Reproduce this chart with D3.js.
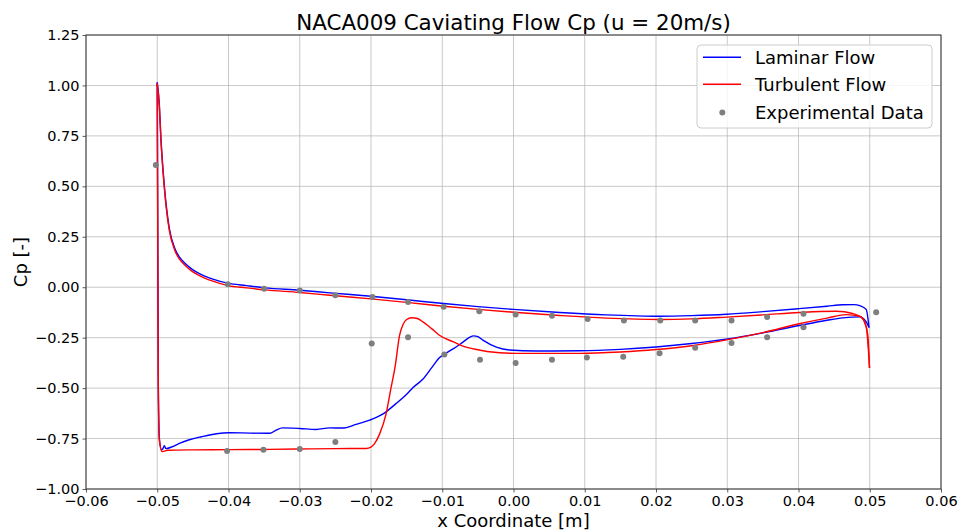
<!DOCTYPE html>
<html><head><meta charset="utf-8">
<script src="https://cdn.jsdelivr.net/npm/d3@7"></script>
<style>
html,body{margin:0;padding:0;background:#fff;}
svg{display:block;font-family:"DejaVu Sans",sans-serif;}
</style></head><body>
<svg id="chart" width="959" height="531"></svg>
<script>
// ---- Data (x [m], Cp) ----
const laminarUpper = [
[-0.0500,1.015],[-0.0497,0.90],[-0.0495,0.75],[-0.0490,0.50],[-0.0483,0.29],[-0.0475,0.19],
[-0.0469,0.15],[-0.0460,0.115],[-0.0450,0.086],[-0.0435,0.058],[-0.0422,0.040],[-0.0401,0.020],
[-0.0375,0.008],[-0.0349,-0.003],[-0.0300,-0.015],[-0.0258,-0.028],[-0.0200,-0.045],[-0.0150,-0.062],
[-0.0098,-0.081],[-0.0050,-0.096],[0.0000,-0.110],[0.0065,-0.125],[0.0130,-0.137],[0.0205,-0.144],
[0.0250,-0.141],[0.0299,-0.134],[0.0350,-0.121],[0.0401,-0.106],[0.0440,-0.094],[0.0462,-0.087],
[0.0478,-0.086],[0.0486,-0.091],[0.0495,-0.110],[0.0499,-0.200]
];
const laminarLower = [
[-0.0500,1.015],[-0.04995,0.50],[-0.0499,0.0],[-0.04985,-0.50],[-0.0497,-0.75],[-0.0494,-0.807],
[-0.0492,-0.800],[-0.0490,-0.785],[-0.0488,-0.800],[-0.0480,-0.792],[-0.0469,-0.774],[-0.0455,-0.756],
[-0.0438,-0.741],[-0.0417,-0.726],[-0.0399,-0.721],[-0.0370,-0.723],[-0.0342,-0.724],[-0.0333,-0.708],
[-0.0324,-0.697],[-0.0300,-0.700],[-0.0277,-0.705],[-0.0258,-0.697],[-0.0240,-0.698],[-0.0221,-0.680],
[-0.0202,-0.659],[-0.0183,-0.628],[-0.0165,-0.577],[-0.0150,-0.530],[-0.0141,-0.497],[-0.0127,-0.455],
[-0.0115,-0.400],[-0.0104,-0.350],[-0.0094,-0.325],[-0.0080,-0.295],[-0.0071,-0.272],[-0.0056,-0.241],
[-0.0050,-0.245],[-0.0043,-0.262],[-0.0024,-0.297],[-0.0006,-0.311],[0.0032,-0.316],[0.0093,-0.315],
[0.0150,-0.308],[0.0200,-0.296],[0.0250,-0.279],[0.0301,-0.256],[0.0350,-0.226],[0.0401,-0.190],
[0.0440,-0.164],[0.0462,-0.152],[0.0486,-0.147],[0.0495,-0.172],[0.0499,-0.200]
];
const turbulentUpper = [
[-0.0500,1.010],[-0.0497,0.89],[-0.0495,0.74],[-0.0490,0.49],[-0.0483,0.28],[-0.0475,0.18],
[-0.0469,0.14],[-0.0460,0.105],[-0.0450,0.076],[-0.0435,0.048],[-0.0422,0.030],[-0.0401,0.008],
[-0.0375,-0.003],[-0.0349,-0.013],[-0.0300,-0.026],[-0.0258,-0.040],[-0.0200,-0.058],[-0.0150,-0.075],
[-0.0098,-0.094],[-0.0050,-0.110],[0.0000,-0.124],[0.0065,-0.140],[0.0130,-0.153],[0.0205,-0.160],
[0.0250,-0.157],[0.0299,-0.148],[0.0350,-0.137],[0.0401,-0.125],[0.0430,-0.120],[0.0453,-0.119],
[0.0476,-0.130],[0.0490,-0.155],[0.0497,-0.230],[0.04997,-0.400]
];
const turbulentLower = [
[-0.0500,1.010],[-0.04995,0.50],[-0.0499,0.0],[-0.04985,-0.50],[-0.0497,-0.76],[-0.0493,-0.815],
[-0.0485,-0.808],[-0.0450,-0.806],[-0.0399,-0.805],[-0.0350,-0.804],[-0.0305,-0.802],[-0.0250,-0.800],
[-0.0207,-0.799],[-0.0200,-0.792],[-0.0195,-0.775],[-0.0188,-0.728],[-0.0179,-0.630],[-0.0172,-0.500],
[-0.0166,-0.390],[-0.0160,-0.240],[-0.0155,-0.185],[-0.0150,-0.160],[-0.0143,-0.151],[-0.0135,-0.155],
[-0.0127,-0.172],[-0.0115,-0.205],[-0.0104,-0.238],[-0.0085,-0.270],[-0.0071,-0.292],[-0.0050,-0.310],
[-0.0034,-0.320],[0.0004,-0.328],[0.0093,-0.328],[0.0150,-0.321],[0.0200,-0.309],[0.0250,-0.290],
[0.0301,-0.260],[0.0350,-0.225],[0.0401,-0.181],[0.0440,-0.153],[0.0467,-0.136],[0.0486,-0.144],
[0.0495,-0.196],[0.04997,-0.400]
];
const experimental = [
[-0.0502,0.606],[-0.0401,0.015],[-0.0350,-0.008],[-0.0300,-0.016],[-0.0250,-0.040],[-0.0198,-0.048],
[-0.0148,-0.073],[-0.0098,-0.097],[-0.0048,-0.119],[0.0003,-0.135],[0.0054,-0.142],[0.0104,-0.157],
[0.0155,-0.165],[0.0206,-0.165],[0.0255,-0.165],[0.0306,-0.165],[0.0356,-0.147],[0.0407,-0.132],
[0.0509,-0.124],
[-0.0402,-0.812],[-0.0351,-0.805],[-0.0300,-0.802],[-0.0250,-0.767],[-0.0199,-0.279],[-0.0148,-0.248],
[-0.0097,-0.333],[-0.0047,-0.360],[0.0003,-0.375],[0.0054,-0.360],[0.0103,-0.348],[0.0154,-0.345],
[0.0205,-0.327],[0.0255,-0.300],[0.0306,-0.277],[0.0356,-0.248],[0.0407,-0.198]
];
const xTicks = [-0.06,-0.05,-0.04,-0.03,-0.02,-0.01,0,0.01,0.02,0.03,0.04,0.05,0.06];
const yTicks = [-1.0,-0.75,-0.5,-0.25,0,0.25,0.5,0.75,1.0,1.25];
const legendLabels = ["Laminar Flow","Turbulent Flow","Experimental Data"];
const titleText = "NACA009 Caviating Flow Cp (u = 20m/s)";
const xLabel = "x Coordinate [m]";
const yLabel = "Cp [-]";

// ---- Layout ----
const W = 959, H = 531;
const m = {left:86, right:941, top:35, bottom:489};
const svg = d3.select("#chart");
const x = d3.scaleLinear().domain([-0.06,0.06]).range([m.left,m.right]);
const y = d3.scaleLinear().domain([-1.0,1.25]).range([m.bottom,m.top]);
const fmtX = v => d3.format(".2f")(v).replace("-","\u2212");
const fmtY = v => d3.format(".2f")(v).replace("-","\u2212");

// grid
const grid = svg.append("g");
grid.selectAll("line.gx").data(xTicks).join("line")
  .attr("x1",d=>x(d)).attr("x2",d=>x(d)).attr("y1",m.top).attr("y2",m.bottom)
  .attr("stroke","#b0b0b0").attr("stroke-width",0.8).attr("opacity",0.85);
grid.selectAll("line.gy").data(yTicks).join("line")
  .attr("y1",d=>y(d)).attr("y2",d=>y(d)).attr("x1",m.left).attr("x2",m.right)
  .attr("stroke","#b0b0b0").attr("stroke-width",0.8).attr("opacity",0.85);

// axes
const xAxis = d3.axisBottom(x).tickValues(xTicks).tickFormat(fmtX).tickSize(3.5).tickPadding(3);
const yAxis = d3.axisLeft(y).tickValues(yTicks).tickFormat(fmtY).tickSize(3.5).tickPadding(3);
const gx = svg.append("g").attr("transform",`translate(0,${m.bottom})`).call(xAxis);
const gy = svg.append("g").attr("transform",`translate(${m.left},0)`).call(yAxis);
[gx,gy].forEach(g=>{
  g.select(".domain").remove();
  g.selectAll("line").attr("stroke","#333").attr("stroke-width",0.8);
  g.selectAll("text").attr("font-family","DejaVu Sans").attr("font-size",14.5).attr("fill","#000");
});

// series
const line = d3.line().x(d=>x(d[0])).y(d=>y(d[1])).curve(d3.curveMonotoneX);
const plot = svg.append("g");
[[laminarUpper,"#0000ff"],[laminarLower,"#0000ff"],[turbulentUpper,"#ff0000"],[turbulentLower,"#ff0000"]]
.forEach(([data,col])=>{
  plot.append("path").datum(data).attr("d",line).attr("fill","none")
    .attr("stroke",col).attr("stroke-width",1.4).attr("stroke-linejoin","round");
});
plot.selectAll("circle").data(experimental).join("circle")
  .attr("cx",d=>x(d[0])).attr("cy",d=>y(d[1])).attr("r",3).attr("fill","#7f7f7f");

// frame
svg.append("rect").attr("x",m.left).attr("y",m.top).attr("width",m.right-m.left).attr("height",m.bottom-m.top)
  .attr("fill","none").attr("stroke","#333").attr("stroke-width",1);

// title and labels
svg.append("text").attr("x",(m.left+m.right)/2).attr("y",30).attr("text-anchor","middle")
  .attr("font-size",21.4).attr("fill","#000").text(titleText);
svg.append("text").attr("x",(m.left+m.right)/2).attr("y",527).attr("text-anchor","middle")
  .attr("font-size",18).attr("fill","#000").text(xLabel);
svg.append("text").attr("transform",`translate(27,${(m.top+m.bottom)/2}) rotate(-90)`).attr("text-anchor","middle")
  .attr("font-size",18).attr("fill","#000").text(yLabel);

// legend
const lg = svg.append("g").attr("transform","translate(697,45)");
lg.append("rect").attr("width",235).attr("height",83).attr("rx",4)
  .attr("fill","#fff").attr("fill-opacity",0.8).attr("stroke","#cccccc").attr("stroke-width",1);
const rows = [57.3-45, 84.3-45, 112.5-45];
lg.append("line").attr("x1",6).attr("x2",44).attr("y1",rows[0]).attr("y2",rows[0]).attr("stroke","#0000ff").attr("stroke-width",1.4);
lg.append("line").attr("x1",6).attr("x2",44).attr("y1",rows[1]).attr("y2",rows[1]).attr("stroke","#ff0000").attr("stroke-width",1.4);
lg.append("circle").attr("cx",25.3).attr("cy",rows[2]).attr("r",3).attr("fill","#7f7f7f");
lg.selectAll("text").data(legendLabels).join("text")
  .attr("x",58).attr("y",(d,i)=>rows[i]).attr("dy","0.35em")
  .attr("font-size",18).attr("fill","#000").text(d=>d);
</script>
</body></html>
